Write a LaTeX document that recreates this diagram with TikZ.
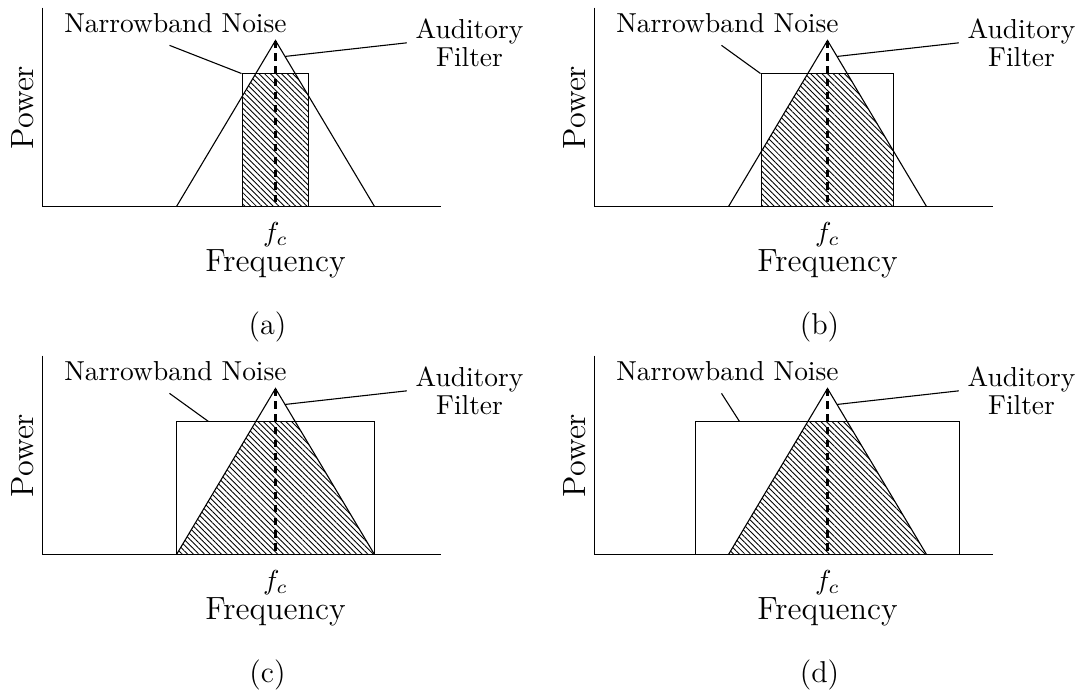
\documentclass[tikz,border=0pt]{standalone}
\usetikzlibrary{calc,patterns.meta}

\begin{document}
\begin{tikzpicture}[
      x=0.0128cm,y=-0.0128cm,
      axis/.style={line width=0.45pt},
      curve/.style={line width=0.4pt},
      centre/.style={line width=0.75pt,dash pattern=on 2.6pt off 2.1pt},
      passband/.style={pattern={Lines[angle=-45,distance=1.45pt,line width=0.32pt]}},
      tag/.style={inner sep=0pt,align=center,font=\fontsize{10}{10.4}\selectfont},
      axlabel/.style={inner sep=0pt,font=\fontsize{11.7}{14}\selectfont},
      subcap/.style={inner sep=0pt,font=\fontsize{11}{13}\selectfont}
    ]
      \useasboundingbox (0,0) rectangle (1084,693);
      % one panel per noise bandwidth
      \foreach \p/\dx/\dy/\w/\e in {a/0/0/33/241,b/552/0/66/208,c/0/348/99/208,d/552/348/132/187}{
        \begin{scope}[shift={(\dx+0.5,\dy+0.5)}]
          \coordinate (origin\p) at (42,206);
          \coordinate (peak\p) at (275,40);
          \coordinate (lo\p) at (176,206);
          \coordinate (hi\p) at (374,206);

          % power that passes the filter
          \begin{scope}
            \clip (275-\w,73) rectangle (275+\w,206);
            \fill[passband] (lo\p) -- (peak\p) -- (hi\p) -- cycle;
          \end{scope}

          \draw[axis] (42,7) -- (origin\p) -- (440,206);
          \draw[curve] (lo\p) -- (peak\p) -- (hi\p);
          \draw[curve] (275-\w,206) rectangle (275+\w,73);
          \draw[centre] (peak\p) -- (peak\p |- origin\p);

          \node[tag,anchor=base] (noise\p) at (175,32) {Narrowband Noise};
          \node[tag,anchor=north] (filter\p) at (469,17.5) {Auditory\\Filter};
          \node[tag,anchor=base] (fc\p) at (275,241) {$f_c$};
          \node[axlabel,anchor=base] (freq\p) at (275,271) {Frequency};
          \node[axlabel,rotate=90] (power\p) at (22.5,107) {Power};
          \node[subcap] (cap\p) at (267,326) {(\p)};

          \coordinate (noiseTip\p) at (\e,73);
          \coordinate (filterTip\p) at ($(peak\p)!0.096!(hi\p)$);
          \draw[curve] ([shift={(-6,12)}]noise\p.south) -- (noiseTip\p);
          \draw[curve] ([xshift=-3pt]filter\p.west) -- (filterTip\p);
        \end{scope}
      }
    \end{tikzpicture}
\end{document}
